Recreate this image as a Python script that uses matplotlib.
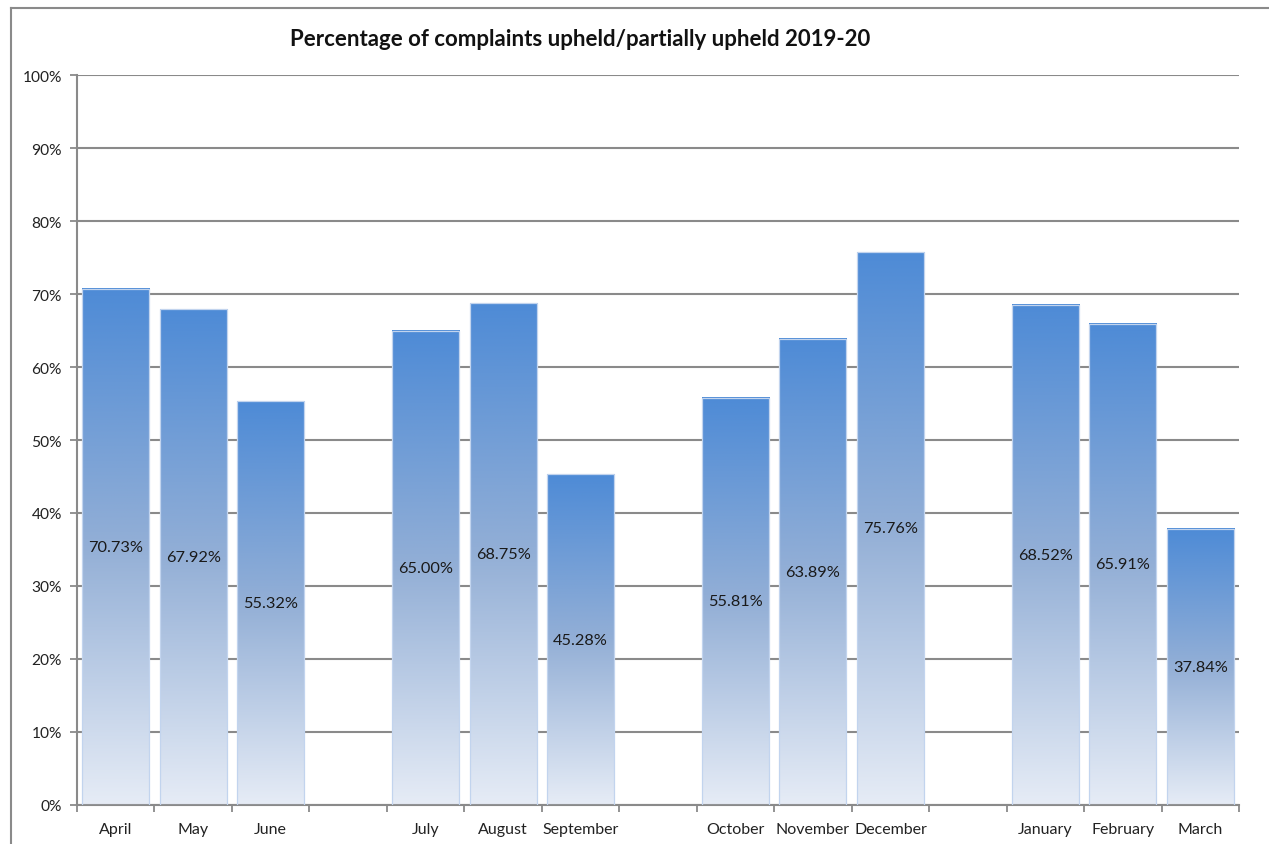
import numpy as np
import matplotlib
matplotlib.use("Agg")
import matplotlib.pyplot as plt
from matplotlib.colors import LinearSegmentedColormap
from matplotlib.patches import Rectangle
from matplotlib.lines import Line2D

plt.rcParams['font.family'] = ['Lato', 'DejaVu Sans']

# monthly share of complaints upheld / partially upheld (%), blank slot between quarters
months = ['April', 'May', 'June', '', 'July', 'August', 'September', '',
          'October', 'November', 'December', '', 'January', 'February', 'March']
values = [70.73, 67.92, 55.32, None, 65.00, 68.75, 45.28, None,
          55.81, 63.89, 75.76, None, 68.52, 65.91, 37.84]
yticks = [0, 10, 20, 30, 40, 50, 60, 70, 80, 90, 100]

fig = plt.figure(figsize=(12.69, 8.45), dpi=100)
ax = fig.add_axes([0.0607, 0.0462, 0.9157, 0.8638])

# bottom-to-top fade used for every bar
grad = LinearSegmentedColormap.from_list(
    'fade', [(0.0, '#e6ecf6'), (0.5, '#93afd6'), (1.0, '#4e8bd6')])
ramp = np.linspace(0, 1, 256).reshape(-1, 1)

width = 0.865
for i, v in enumerate(values):
    if v is None:
        continue
    x0 = i - width / 2
    ax.imshow(ramp, cmap=grad, origin='lower', aspect='auto',
              extent=(x0, x0 + width, 0, v), zorder=2, interpolation='bilinear')
    ax.add_patch(Rectangle((x0, 0), width, v, fill=False,
                           edgecolor='#c2d4ee', linewidth=0.9, zorder=3))
    ax.text(i, v / 2, f"{v:.2f}%", ha='center', va='center',
            fontsize=11.8, color='#1a1a1a', zorder=4)

ax.set_xlim(-0.5, len(months) - 0.5)
ax.set_ylim(0, 100)

ax.set_yticks(yticks)
ax.set_yticklabels([f"{t}%" for t in yticks], fontsize=11.2, color='#222222')
ax.yaxis.grid(True, color='#8a8a8a', linewidth=1.5, zorder=0)
ax.set_axisbelow(True)

ax.set_xticks(np.arange(len(months)))
ax.set_xticklabels(months, fontsize=11.5, color='#222222')
ax.set_xticks(np.arange(-0.5, len(months), 1), minor=True)
ax.tick_params(axis='x', which='major', length=0, pad=12)
ax.tick_params(axis='x', which='minor', length=5, color='#8a8a8a', width=1.3)
ax.tick_params(axis='y', length=5, color='#8a8a8a', width=1.3, pad=6)

for s in ['top', 'right']:
    ax.spines[s].set_visible(False)
for s in ['left', 'bottom']:
    ax.spines[s].set_color('#8a8a8a')
    ax.spines[s].set_linewidth(1.5)

fig.text(0.457, 0.953, 'Percentage of complaints upheld/partially upheld 2019-20',
         ha='center', va='center', fontsize=16, fontweight='bold', color='#111111')

# chart-area frame along the left and top edges
fig.add_artist(Line2D([11 / 1269, 11 / 1269], [0, 1 - 9 / 845],
                      transform=fig.transFigure, color='#8a8a8a', linewidth=1.5))
fig.add_artist(Line2D([11 / 1269, 1], [1 - 9 / 845, 1 - 9 / 845],
                      transform=fig.transFigure, color='#8a8a8a', linewidth=1.5))

fig.savefig('out.png', dpi=100, facecolor='white')
